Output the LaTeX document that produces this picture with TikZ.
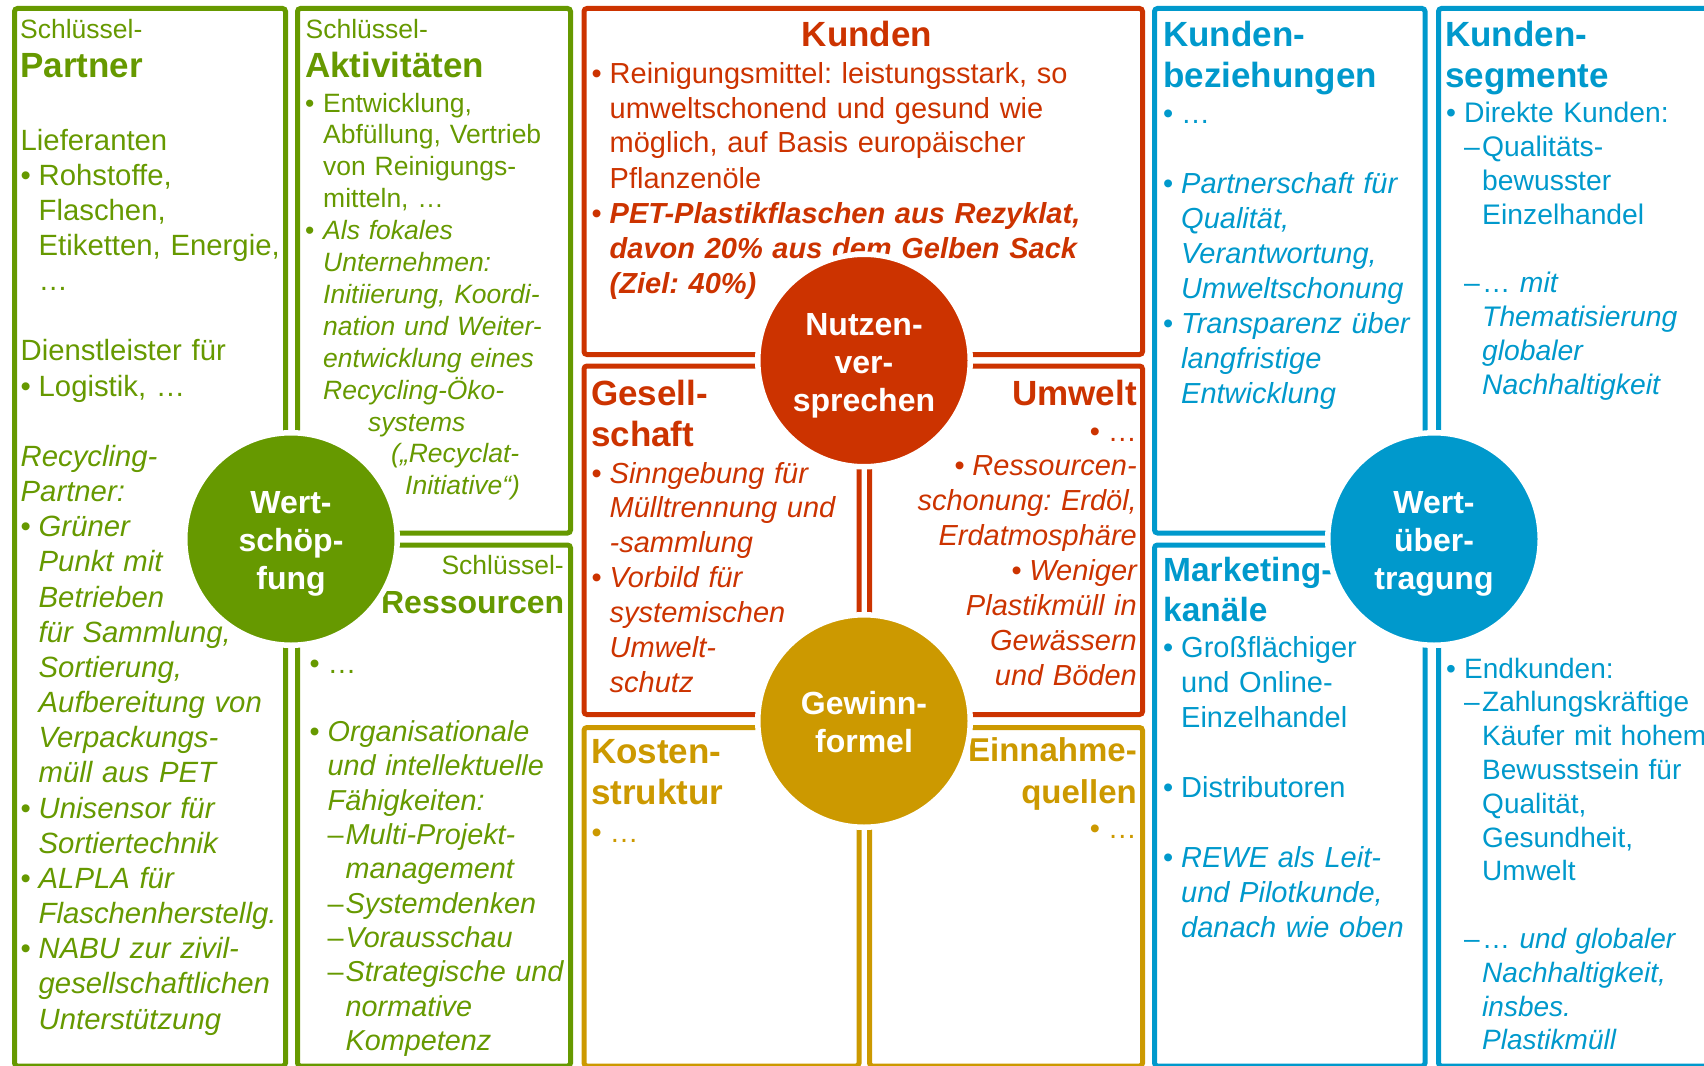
\documentclass[tikz,border=0pt]{standalone}
\usepackage{fontspec}
\setmainfont{Liberation Sans}
\frenchspacing
\definecolor{wsgreen}{HTML}{669900}
\definecolor{nvred}{HTML}{CC3300}
\definecolor{gfgold}{HTML}{CC9900}
\definecolor{wublue}{HTML}{0099CC}
\newlength\bind \setlength\bind{18pt}
\newlength\dwid \setlength\dwid{18pt}
\newlength\dind \setlength\dind{36pt}
\setlength\parskip{0pt}
% list lines: plain, bullet, dash, empty line
\newcommand\pl[1]{\noindent{#1}\par}
\newcommand\bi[1]{\noindent\hangindent=\bind\hangafter=1\makebox[\bind][l]{•}{#1}\par}
\newcommand\di[1]{\noindent\hangindent=\dind\hangafter=1\hspace*{\bind}\makebox[\dwid][l]{–}{#1}\par}
\newcommand\gap{\noindent\mbox{}\par}
\newcommand\rb{\makebox[\bind][l]{•}}
\newcommand\titlefont{\fontsize{35}{41.5}\selectfont\bfseries}
\newcommand\keyfont{\fontsize{26.5}{32}\selectfont}
\newcommand\wheelfont{\fontsize{32}{38}\selectfont\bfseries}
\tikzset{
  box/.style={draw=#1, line width=5pt, rounded corners=3pt},
  wheel/.style={circle, fill=#1, draw=white, line width=5.5pt, minimum size=212.5pt, inner sep=0pt},
  wheeltxt/.style={inner sep=0pt, text=white, align=center, font=\wheelfont},
  lab/.style={anchor=base west, inner sep=0pt},
  labr/.style={anchor=base east, inner sep=0pt},
  cell/.style={anchor=base west, inner sep=0pt, text width=#1},
  cellr/.style={anchor=base east, inner sep=0pt, text width=#1, align=right},
}
\begin{document}
\begin{tikzpicture}[x=1pt,y=-1pt]
  \useasboundingbox (0,0) rectangle (1704,1065);
  \clip (0,0) rectangle (1704,1065);
  % frames
  \draw[box=wsgreen] (14.5,8.5) rectangle (285.5,1066);
  \draw[box=wsgreen] (297.5,8.5) rectangle (570.5,533);
  \draw[box=wsgreen] (297.5,545) rectangle (570.5,1066);
  \draw[box=nvred] (584,8.5) rectangle (1142.5,354.5);
  \draw[box=nvred] (584,366) rectangle (859,714.5);
  \draw[box=nvred] (869.5,366) rectangle (1142.5,714.5);
  \draw[box=gfgold] (584,727.5) rectangle (859,1066);
  \draw[box=gfgold] (869.5,727.5) rectangle (1142.5,1066);
  \draw[box=wublue] (1154.5,8.5) rectangle (1425,533);
  \draw[box=wublue] (1154.5,545) rectangle (1425,1066);
  \draw[box=wublue] (1438.5,8.5) rectangle (1712,1066);

  % Schluesselpartner
  \node[lab, text=wsgreen, font=\keyfont] (pkey) at (20,38) {Schlüssel-};
  \node[lab, text=wsgreen, font=\titlefont] (ptitle) at (20,77.5) {Partner};
  \node[cell=330pt, text=wsgreen, font=\fontsize{29.3}{35.16}\selectfont] (ptext) at (20.5,150) {%
    \pl{Lieferanten}
    \bi{Rohstoffe,\newline Flaschen,\newline Etiketten, Energie,\newline …}
    \gap
    \pl{Dienstleister für}
    \bi{Logistik, …}
    \gap
    \pl{\itshape Recycling-\newline Partner:}
    \bi{\itshape Grüner\newline Punkt mit\newline Betrieben\newline für Sammlung,\newline Sortierung,\newline Aufbereitung von\newline Verpackungs-\newline müll aus PET}
    \bi{\itshape Unisensor für\newline Sortiertechnik}
    \bi{\itshape ALPLA für\newline Flaschenherstellg.}
    \bi{\itshape NABU zur zivil-\newline gesellschaftlichen\newline Unterstützung}};
  % Schluesselaktivitaeten
  \node[lab, text=wsgreen, font=\keyfont] (akey) at (305.5,38) {Schlüssel-};
  \node[lab, text=wsgreen, font=\titlefont] (atitle) at (305,77.5) {Aktivitäten};
  \node[cell=300pt, text=wsgreen, font=\fontsize{26.5}{31.9}\selectfont] (atext) at (305,112) {%
    \bi{Entwicklung,\newline Abfüllung, Vertrieb\newline von Reinigungs-\newline mitteln, …}
    \bi{\itshape Als fokales\newline Unternehmen:\newline Initiierung, Koordi-\newline nation und Weiter-\newline entwicklung eines\newline Recycling-Öko-\newline
      \hspace*{45pt}systems\newline \hspace*{68pt}(„Recyclat-\newline \hspace*{82pt}Initiative“)}};
  % Schluesselressourcen
  \node[labr, text=wsgreen, font=\keyfont] (rkey) at (564,574) {Schlüssel-};
  \node[labr, text=wsgreen, font=\fontsize{32}{40}\selectfont\bfseries] (rtitle) at (564.5,613) {Ressourcen};
  \node[cell=300pt, text=wsgreen, font=\fontsize{28.8}{34.3}\selectfont] (rtext) at (309.5,673) {%
    \bi{…}
    \gap
    \bi{\itshape Organisationale\newline und intellektuelle\newline Fähigkeiten:}
    \di{\itshape Multi-Projekt-\newline management}
    \di{\itshape Systemdenken}
    \di{\itshape Vorausschau}
    \di{\itshape Strategische und\newline normative\newline Kompetenz}};

  % Kunden
  \node[anchor=base, inner sep=0pt, text=nvred, font=\titlefont] (ktitle) at (867,46.5) {Kunden};
  \node[cell=560pt, text=nvred, font=\fontsize{29}{35}\selectfont] (ktext) at (591.5,83) {%
    \bi{Reinigungsmittel: leistungsstark, so\newline umweltschonend und gesund wie\newline möglich, auf Basis europäischer\newline Pflanzenöle}
    \bi{\bfseries\itshape PET-Plastikflaschen aus Rezyklat,\newline davon 20\% aus dem Gelben Sack\newline (Ziel: 40\%)}};
  % Gesellschaft
  \node[cell=260pt, text=nvred, font=\titlefont] (gtitle) at (591,405) {Gesell-\newline schaft};
  \node[cell=300pt, text=nvred, font=\fontsize{29}{34.9}\selectfont] (gtext) at (591.5,483) {%
    \bi{\itshape Sinngebung für\newline Mülltrennung und\newline -sammlung}
    \bi{\itshape Vorbild für\newline systemischen\newline Umwelt-\newline schutz}};
  % Umwelt
  \node[labr, text=nvred, font=\titlefont] (utitle) at (1137,405) {Umwelt};
  \node[cellr=300pt, text=nvred, font=\fontsize{29}{34.9}\selectfont] (utext) at (1137,441) {%
    \rb…\par\itshape
    \rb Ressourcen-\par schonung: Erdöl,\par Erdatmosphäre\par
    \rb Weniger\par Plastikmüll in\par Gewässern\par und Böden};

  % Kostenstruktur, Einnahmequellen
  \node[cell=260pt, text=gfgold, font=\titlefont] (ktitle2) at (591,763) {Kosten-\newline struktur};
  \node[cell=260pt, text=gfgold, font=\fontsize{29}{35}\selectfont] (kstext) at (591.5,842) {\bi{…}};
  \node[cellr=260pt, text=gfgold, font=\fontsize{33}{41.5}\selectfont\bfseries] (etitle) at (1137,761.5) {Einnahme-\par quellen};
  \node[cellr=260pt, text=gfgold, font=\fontsize{29}{35}\selectfont] (etext) at (1137,838) {\rb…};

  % Kundenbeziehungen
  \node[cell=270pt, text=wublue, font=\titlefont] (btitle) at (1163,46.5) {Kunden-\newline beziehungen};
  \node[cell=300pt, text=wublue, font=\fontsize{29}{35}\selectfont] (btext) at (1163,123) {%
    \bi{…}
    \gap
    \bi{\itshape Partnerschaft für\newline Qualität,\newline Verantwortung,\newline Umweltschonung}
    \bi{\itshape Transparenz über\newline langfristige\newline Entwicklung}};
  % Marketingkanaele
  \node[cell=270pt, text=wublue, font=\fontsize{33.5}{40}\selectfont\bfseries] (mtitle) at (1163,581) {Marketing-\newline kanäle};
  \node[cell=300pt, text=wublue, font=\fontsize{29}{35}\selectfont] (mtext) at (1163,657) {%
    \bi{Großflächiger\newline und Online-\newline Einzelhandel}
    \gap
    \bi{Distributoren}
    \gap
    \bi{\itshape REWE als Leit-\newline und Pilotkunde,\newline danach wie oben}};
  % Kundensegmente
  \node[cell=270pt, text=wublue, font=\titlefont] (stitle) at (1445,46.5) {Kunden-\newline segmente};
  \node[cell=300pt, text=wublue, font=\fontsize{28.3}{34}\selectfont] (stext) at (1446,122) {%
    \bi{Direkte Kunden:}
    \di{Qualitäts-\newline bewusster\newline Einzelhandel}
    \gap
    \di{… \itshape mit\newline Thematisierung\newline globaler\newline Nachhaltigkeit}};
  \node[cell=300pt, text=wublue, font=\fontsize{28}{33.8}\selectfont] (etext2) at (1446,678) {%
    \bi{Endkunden:}
    \di{Zahlungskräftige\newline Käufer mit hohem\newline Bewusstsein für\newline Qualität,\newline Gesundheit,\newline Umwelt}
    \gap
    \di{… \itshape und globaler\newline Nachhaltigkeit,\newline insbes.\newline Plastikmüll}};

  % the four circles
  \node[wheel=wsgreen] (wsch) at (291,539) {};
  \node[wheel=nvred] (nutz) at (864,360.5) {};
  \node[wheel=gfgold] (gewf) at (864,721) {};
  \node[wheel=wublue] (wueb) at (1434,539) {};
  \node[wheeltxt, yshift=-5pt] (wschtxt) at (wsch) {Wert-\\schöp-\\fung};
  \node[wheeltxt, yshift=-5pt] (nutztxt) at (nutz) {Nutzen-\\ver-\\sprechen};
  \node[wheeltxt, yshift=-1pt] (gewftxt) at (gewf) {Gewinn-\\formel};
  \node[wheeltxt, yshift=-5pt] (wuebtxt) at (wueb) {Wert-\\über-\\tragung};
\end{tikzpicture}
\end{document}
